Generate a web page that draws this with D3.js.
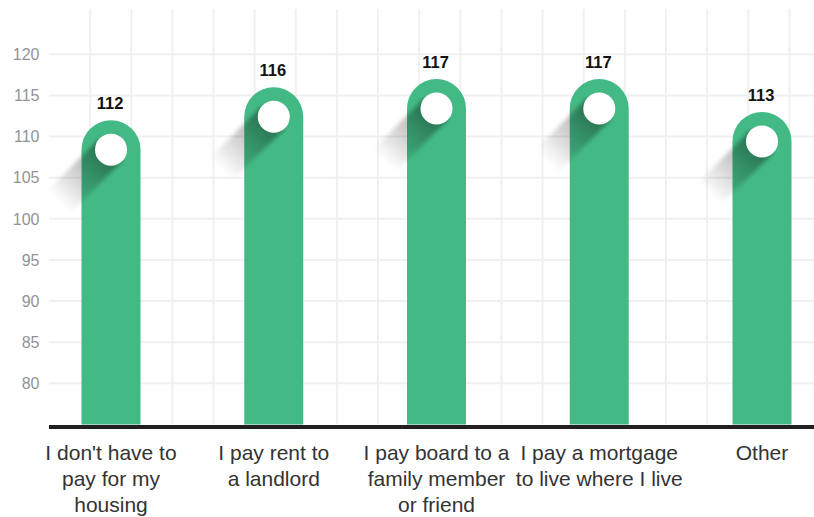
<!DOCTYPE html>
<html>
<head>
<meta charset="utf-8">
<script src="https://cdn.jsdelivr.net/npm/d3@7/dist/d3.min.js"></script>
<style>
  html, body { margin: 0; padding: 0; background: #ffffff; }
  svg { display: block; }
</style>
</head>
<body>
<svg id="chart" width="814" height="517"></svg>
<script>
// Housing situation categories and their index values
const categories = [
  "I don't have to pay for my housing",
  "I pay rent to a landlord",
  "I pay board to a family member or friend",
  "I pay a mortgage to live where I live",
  "Other"
];
const categoryLines = [
  ["I don't have to", "pay for my", "housing"],
  ["I pay rent to", "a landlord"],
  ["I pay board to a", "family member", "or friend"],
  ["I pay a mortgage", "to live where I live"],
  ["Other"]
];
const values = [112, 116, 117, 117, 113];
const yTicks = [80, 85, 90, 95, 100, 105, 110, 115, 120];
const yDomain = [75, 125];

const plotLeft = 49, plotRight = 814, gridTop = 9;
const barColor = "#43ba85";

const svg = d3.select("#chart");
const defs = svg.append("defs");

const y = d3.scaleLinear().domain(yDomain).range([424.5, 13.2]);
const x = d3.scalePoint().domain(categories).range([111, 762]);
const barW = 59;
const r = barW / 2;
const dotR = 16;
const baseY = y(yDomain[0]);

// Long-shadow gradient and soft blur
const grad = defs.append("linearGradient").attr("id", "shadowGrad")
  .attr("x1", "0%").attr("x2", "100%").attr("y1", "0%").attr("y2", "0%");
grad.append("stop").attr("offset", "0%").attr("stop-color", "#000").attr("stop-opacity", 0.42);
grad.append("stop").attr("offset", "45%").attr("stop-color", "#000").attr("stop-opacity", 0.22);
grad.append("stop").attr("offset", "100%").attr("stop-color", "#000").attr("stop-opacity", 0);
const blur = defs.append("filter").attr("id", "shadowBlur")
  .attr("x", "-50%").attr("y", "-50%").attr("width", "200%").attr("height", "200%");
blur.append("feGaussianBlur").attr("stdDeviation", 2.2);

// Square grid: horizontal lines at y ticks, vertical lines at the same spacing
const gridStep = Math.abs(y(5) - y(0));
const grid = svg.append("g").attr("stroke", "#f0f0f2").attr("stroke-width", 2);
grid.selectAll("line.h").data(yTicks).join("line").attr("class", "h")
  .attr("x1", plotLeft).attr("x2", plotRight)
  .attr("y1", d => y(d)).attr("y2", d => y(d));
const vLines = d3.range(plotLeft + gridStep, plotRight, gridStep);
grid.selectAll("line.v").data(vLines).join("line").attr("class", "v")
  .attr("x1", d => d).attr("x2", d => d)
  .attr("y1", gridTop).attr("y2", baseY);

// Y axis labels
svg.append("g").selectAll("text").data(yTicks).join("text")
  .attr("x", 39.5).attr("y", d => y(d)).attr("dy", "0.36em")
  .attr("text-anchor", "end")
  .attr("font-family", "'Liberation Sans', Arial, sans-serif")
  .attr("font-size", 16).attr("fill", "#939393")
  .text(d => d);

// Bars with rounded tops, a long shadow and a white dot
const bars = svg.append("g").selectAll("g").data(categories).join("g");

bars.append("path")
  .attr("fill", barColor)
  .attr("d", (c, i) => {
    const cx = x(c), top = y(values[i]);
    const x0 = cx - r, x1 = cx + r;
    return `M${x0},${baseY} V${top + r} A${r},${r} 0 0 1 ${x1},${top + r} V${baseY} Z`;
  });

bars.append("g")
  .attr("transform", (c, i) => `translate(${x(c)},${y(values[i]) + r}) rotate(135)`)
  .attr("filter", "url(#shadowBlur)")
  .append("rect")
  .attr("x", 0).attr("y", -dotR).attr("width", 74).attr("height", dotR * 2)
  .attr("fill", "url(#shadowGrad)");

bars.append("circle")
  .attr("cx", c => x(c))
  .attr("cy", (c, i) => y(values[i]) + r)
  .attr("r", dotR)
  .attr("fill", "#ffffff");

// Value labels
bars.append("text")
  .attr("x", c => x(c) - 1)
  .attr("y", (c, i) => y(values[i]) - 11)
  .attr("text-anchor", "middle")
  .attr("font-family", "'Liberation Sans', Arial, sans-serif")
  .attr("font-weight", "bold").attr("font-size", 16.5).attr("fill", "#111")
  .text((c, i) => values[i]);

// Baseline
svg.append("line")
  .attr("x1", plotLeft).attr("x2", plotRight)
  .attr("y1", baseY + 2.5).attr("y2", baseY + 2.5)
  .attr("stroke", "#231f20").attr("stroke-width", 4);

// Category labels
const xl = svg.append("g").selectAll("text").data(categories).join("text")
  .attr("text-anchor", "middle")
  .attr("font-family", "'Liberation Sans', Arial, sans-serif")
  .attr("font-size", 21).attr("fill", "#333")
  .attr("transform", c => `translate(${x(c)},0)`);
xl.selectAll("tspan").data((c, i) => categoryLines[i]).join("tspan")
  .attr("x", 0).attr("y", (d, j) => 460 + j * 26)
  .text(d => d);
</script>
</body>
</html>
